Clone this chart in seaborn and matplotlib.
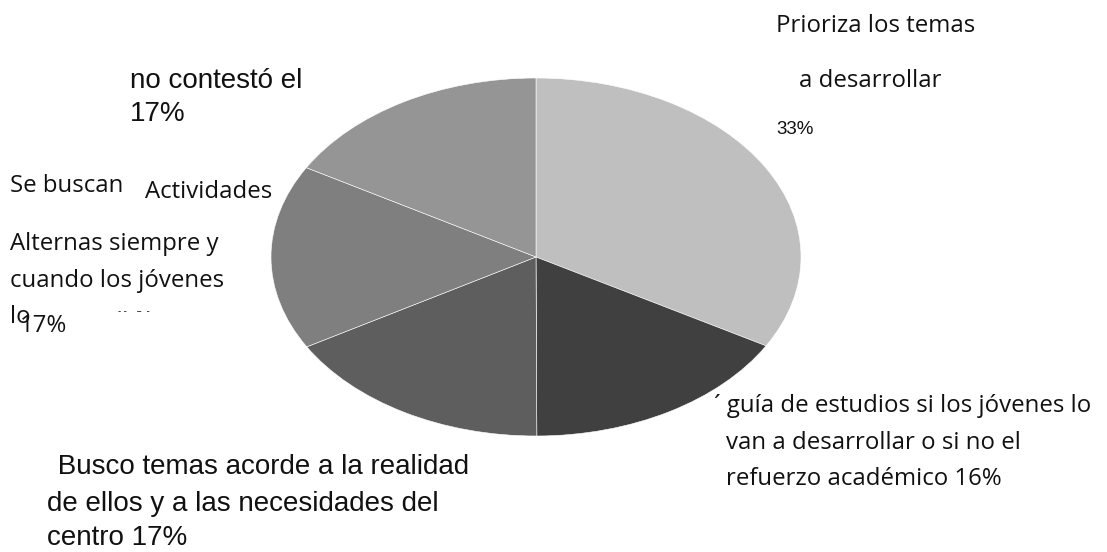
import matplotlib
matplotlib.use("Agg")
import matplotlib.pyplot as plt
import seaborn as sns

sns.set_theme(style="white")
plt.rcParams['font.family'] = ['Open Sans', 'DejaVu Sans']

categories = ["Prioriza los temas a desarrollar",
              "guía de estudios / refuerzo académico",
              "Busco temas acorde a la realidad",
              "Se buscan Actividades Alternas",
              "no contestó el"]
shares = [33.3, 16.7, 16.7, 16.7, 16.7]
colors = ["#bfbfbf", "#404040", "#5e5e5e", "#7f7f7f", "#959595"]

W, H = 1107, 552
fig = plt.figure(figsize=(W / 100, H / 100), dpi=100)
ax = fig.add_axes([271 / W, 1 - 436 / H, 530 / W, 358 / H])
ax.pie(shares, colors=colors, startangle=90, counterclock=False,
       wedgeprops=dict(edgecolor="white", linewidth=0.4))
ax.set_aspect("auto")
ax.set_xlim(-1.0, 1.0)
ax.set_ylim(-1.0, 1.0)
ax.axis("off")

CAL = 17.3
ARI = 20


def t(x, y, s, size, family="Open Sans"):
    fig.text(x / W, 1 - y / H, s, fontsize=size, ha="left", va="center",
             family=[family, "DejaVu Sans"], color="#111111")


# Top right label
t(776, 26, "Prioriza los temas", CAL)
t(799, 81, "a desarrollar", CAL)
t(776, 129, "33%", 13.5, "Liberation Sans")

# Top left label
t(130, 81, "no contestó el", ARI, "Liberation Sans")
t(130, 114, "17%", ARI, "Liberation Sans")

# Left label
t(10, 186, "Se buscan", CAL)
t(145, 192, "Actividades", CAL)
t(10, 244, "Alternas siempre y", CAL)
t(10, 281, "cuando los jóvenes", CAL)
t(10, 317, "lo", CAL)
t(20, 326, "17%", CAL)
t(118, 311, "- -    –  -", 7)

# Bottom right label
t(714, 406, "´ guía de estudios si los jóvenes lo", CAL)
t(726, 443, "van a desarrollar o si no el", CAL)
t(726, 479, "refuerzo académico 16%", CAL)

# Bottom left label
t(50, 467, " Busco temas acorde a la realidad", ARI, "Liberation Sans")
t(47, 504, "de ellos y a las necesidades del", ARI, "Liberation Sans")
t(47, 538, "centro 17%", ARI, "Liberation Sans")

fig.savefig("out.png", dpi=100, facecolor="white")
